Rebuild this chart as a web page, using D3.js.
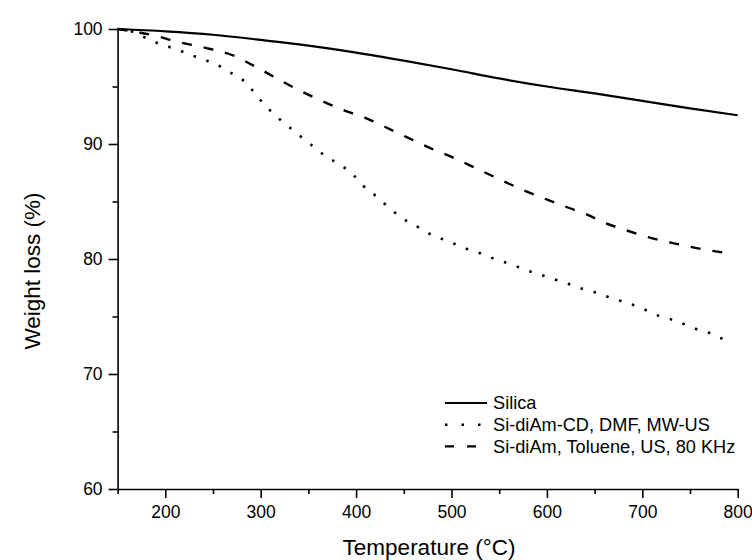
<!DOCTYPE html>
<html>
<head>
<meta charset="utf-8">
<script src="https://cdn.jsdelivr.net/npm/d3@7"></script>
<style>
  body { margin: 0; background: #fff; }
  text { font-family: "Liberation Sans", Arial, sans-serif; fill: #000; }
</style>
</head>
<body>
<script>
// data
const silicaT = [150, 200, 250, 300, 350, 400, 450, 500, 550, 600, 650, 700, 750, 800];
const silicaW = [100, 99.8, 99.5, 99.05, 98.55, 97.95, 97.25, 96.5, 95.7, 95.0, 94.4, 93.75, 93.1, 92.5];

const dmfT = [150, 168, 180, 191, 202, 216, 228, 242, 254, 266, 280, 291, 301, 310, 322, 334, 344, 355,
  367, 383, 396, 407, 422, 434, 446, 455, 469, 481, 495, 512, 530, 542, 564, 579, 591, 605, 617, 627,
  641, 655, 669, 684, 701, 716, 732, 748, 760, 773, 783, 792];
const dmfW = [100, 99.7, 99.2, 98.8, 98.5, 98.1, 97.7, 97.3, 96.9, 96.3, 95.65, 94.7, 93.7, 92.9, 92.0, 91.2, 90.5, 89.8,
  89.0, 88.2, 87.4, 86.4, 85.4, 84.5, 83.7, 83.2, 82.6, 82.0, 81.6, 81.0, 80.5, 80.1, 79.5, 79.0, 78.7, 78.3, 78.0, 77.7,
  77.3, 77.0, 76.55, 76.2, 75.65, 75.1, 74.7, 74.2, 73.8, 73.5, 73.1, 72.7];

const tolT = [150, 190, 212, 240, 271, 294, 317, 337, 360, 388, 409, 430, 453, 476, 505, 528, 551, 575,
  596, 621, 641, 659, 683, 706, 737, 760, 790];
const tolW = [100, 99.4, 98.9, 98.4, 97.7, 96.75, 95.7, 94.8, 93.9, 92.9, 92.3, 91.5, 90.6, 89.7, 88.7, 87.8, 86.9, 86.0,
  85.3, 84.5, 83.9, 83.2, 82.5, 81.9, 81.3, 80.9, 80.5];

const seriesNames = ["Silica", "Si-diAm-CD, DMF, MW-US", "Si-diAm, Toluene, US, 80 KHz"];

const xMajor = [200, 300, 400, 500, 600, 700, 800];
const xMinor = [150, 250, 350, 450, 550, 650, 750];
const yMajor = [60, 70, 80, 90, 100];
const yMinor = [65, 75, 85, 95];

// constants
const width = 752;
const height = 560;

const x = d3.scaleLinear().domain([150, 800]).range([117.6, 737.7]);
const y = d3.scaleLinear().domain([60, 100]).range([489, 29]);

const svg = d3.select("body").append("svg")
    .attr("width", width)
    .attr("height", height);

svg.append("rect").attr("width", width).attr("height", height).attr("fill", "#fff");

// axes
svg.append("g")
    .attr("transform", `translate(0,${y(60)})`)
    .call(d3.axisBottom(x).tickValues(xMajor).tickSize(9).tickSizeOuter(0).tickPadding(8));
svg.append("g")
    .attr("transform", `translate(0,${y(60)})`)
    .call(d3.axisBottom(x).tickValues(xMinor).tickSize(5).tickSizeOuter(0).tickFormat(""))
    .select(".domain").remove();

svg.append("g")
    .attr("transform", `translate(${x(150)},0)`)
    .call(d3.axisLeft(y).tickValues(yMajor).tickSize(9).tickSizeOuter(0).tickPadding(6));
svg.append("g")
    .attr("transform", `translate(${x(150)},0)`)
    .call(d3.axisLeft(y).tickValues(yMinor).tickSize(5).tickSizeOuter(0).tickFormat(""))
    .select(".domain").remove();

svg.selectAll(".domain, .tick line").attr("stroke", "#000").attr("stroke-width", 1.6);
svg.selectAll(".tick text")
    .style("font-family", "'Liberation Sans', Arial, sans-serif")
    .style("font-size", "17.5px")
    .attr("fill", "#000");

// axis titles
svg.append("text")
    .attr("x", 429)
    .attr("y", 555)
    .attr("text-anchor", "middle")
    .style("font-size", "22.5px")
    .text("Temperature (°C)");

svg.append("text")
    .attr("transform", "translate(40,271) rotate(-90)")
    .attr("text-anchor", "middle")
    .style("font-size", "22.5px")
    .text("Weight loss (%)");

// lines
const styles = [
  { w: 2.2, dash: null },
  { w: 2.6, dash: "2.5,11" },
  { w: 2.4, dash: "10,12" }
];
const series = [
  silicaT.map((t, i) => [t, silicaW[i]]),
  dmfT.map((t, i) => [t, dmfW[i]]),
  tolT.map((t, i) => [t, tolW[i]])
];

const line = d3.line()
    .x(d => x(d[0]))
    .y(d => y(d[1]))
    .curve(d3.curveMonotoneX);

series.forEach((s, i) => {
  svg.append("path")
      .datum(s)
      .attr("fill", "none")
      .attr("stroke", "#000")
      .attr("stroke-width", styles[i].w)
      .attr("stroke-dasharray", styles[i].dash)
      .attr("d", line);
});

// legend
const legend = svg.append("g").attr("transform", "translate(445,403)");
seriesNames.forEach((name, i) => {
  const row = legend.append("g").attr("transform", `translate(0,${i * 21.7})`);
  row.append("line")
      .attr("x1", 0).attr("x2", 42)
      .attr("stroke", "#000")
      .attr("stroke-width", styles[i].w)
      .attr("stroke-dasharray", i === 1 ? "2.5,14" : i === 2 ? "9,13" : null);
  row.append("text")
      .attr("x", 48)
      .attr("dy", "0.35em")
      .style("font-size", "18.2px")
      .text(name);
});
</script>
</body>
</html>
